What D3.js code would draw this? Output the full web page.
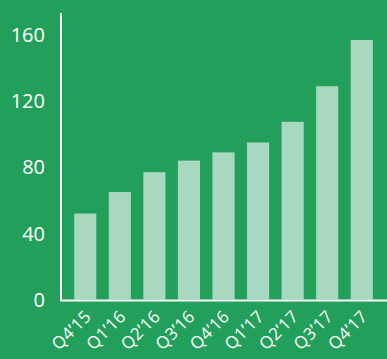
<!DOCTYPE html>
<html>
<head>
<meta charset="utf-8">
<script src="https://cdn.jsdelivr.net/npm/d3@7"></script>
<style>
  html, body { margin: 0; padding: 0; background: #229f5a; overflow: hidden; }
  text { font-family: "Open Sans", sans-serif; fill: #fff; }
</style>
</head>
<body>
<div id="chart"></div>
<script>
var quarters = ["Q4\u201915", "Q1\u201916", "Q2\u201916", "Q3\u201916", "Q4\u201916", "Q1\u201917", "Q2\u201917", "Q3\u201917", "Q4\u201917"];
var values = [52, 65, 77, 84, 89, 95, 107.5, 129, 157];
var yTicks = [0, 40, 80, 120, 160];

var svgWidth = 387;
var svgHeight = 359;
var margin = { top: 13, right: 0, bottom: 59, left: 61 };

var svg = d3.select('#chart').append('svg')
    .attr('width', svgWidth)
    .attr('height', svgHeight);

var x = d3.scaleBand()
    .domain(quarters)
    .range([margin.left + 7, margin.left + 7 + 34.56 * 9])
    .paddingInner(0.36)
    .paddingOuter(0.18);

var y = d3.scaleLinear()
    .domain([0, 160])
    .range([svgHeight - margin.bottom - 0.5, 35]);

// bars
svg.selectAll('rect.bar')
   .data(values)
   .enter()
   .append('rect')
   .attr('class', 'bar')
   .attr('x', function (d, i) { return x(quarters[i]); })
   .attr('width', x.bandwidth())
   .attr('y', function (d) { return y(d); })
   .attr('height', function (d) { return y(0) - y(d); })
   .attr('fill', '#a8d8bf');

// y axis labels
svg.selectAll('text.ytick')
   .data(yTicks)
   .enter()
   .append('text')
   .attr('class', 'ytick')
   .attr('x', 45)
   .attr('y', function (d) { return y(d); })
   .attr('dy', '0.36em')
   .attr('text-anchor', 'end')
   .style('font-size', '20px')
   .text(function (d) { return d; });

// axis lines
svg.append('line')
   .attr('x1', margin.left).attr('x2', margin.left)
   .attr('y1', margin.top).attr('y2', y(0) + 1)
   .attr('stroke', '#fff').attr('stroke-width', 2);
svg.append('line')
   .attr('x1', margin.left - 1).attr('x2', svgWidth)
   .attr('y1', y(0) + 1).attr('y2', y(0) + 1)
   .attr('stroke', '#fff').attr('stroke-width', 2);

// x labels, rotated
svg.selectAll('text.xtick')
   .data(quarters)
   .enter()
   .append('text')
   .attr('class', 'xtick')
   .attr('text-anchor', 'end')
   .style('font-size', '17px')
   .style('letter-spacing', '0.4px')
   .attr('transform', function (d) {
       var cx = x(d) + x.bandwidth() / 2 + 7;
       return 'translate(' + cx + ',' + (y(0) + 18) + ') rotate(-45)';
   })
   .text(function (d) { return d; });
</script>
</body>
</html>
